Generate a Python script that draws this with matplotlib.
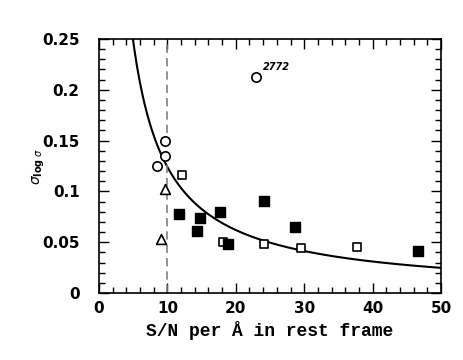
import numpy as np
import matplotlib
matplotlib.use("Agg")
import matplotlib.pyplot as plt
from matplotlib.ticker import MultipleLocator

circle_x = [9.65, 9.69, 8.43, 22.9]
circle_y = [0.150, 0.135, 0.125, 0.213]
tri_x = [9.7, 9.0]
tri_y = [0.102, 0.053]
open_sq_x = [12.1, 18.1, 24.1, 29.5, 37.7]
open_sq_y = [0.116, 0.050, 0.048, 0.044, 0.045]
filled_sq_x = [11.65, 14.8, 17.7, 14.4, 18.9, 24.1, 28.7, 46.6]
filled_sq_y = [0.078, 0.074, 0.080, 0.061, 0.048, 0.091, 0.065, 0.041]
curve_coef = 1.24
cut_sn = 10
label_text = "2772"

fig = plt.figure(figsize=(4.63, 3.6), dpi=100)
ax = fig.add_axes([0.2138, 0.186, 0.7387, 0.7057])

xs = np.linspace(1, 50, 400)
ax.plot(xs, curve_coef / xs, color="black", lw=1.5)
ax.axvline(cut_sn, color="gray", ls=(0, (5, 3)), lw=1.2)

ax.scatter(circle_x, circle_y, marker="o", s=45, facecolors="white", edgecolors="black", linewidths=1.2, zorder=3)
ax.scatter(tri_x, tri_y, marker="^", s=50, facecolors="white", edgecolors="black", linewidths=1.2, zorder=3)
ax.scatter(open_sq_x, open_sq_y, marker="s", s=40, facecolors="white", edgecolors="black", linewidths=1.2, zorder=3)
ax.scatter(filled_sq_x, filled_sq_y, marker="s", s=45, facecolors="black", edgecolors="black", zorder=3)
ax.annotate(label_text, (circle_x[3], circle_y[3]), xytext=(5, 5), textcoords="offset points",
            fontsize=7, fontstyle="italic", fontweight="bold")

ax.set_xlim(0, 50)
ax.set_ylim(0, 0.25)
ax.xaxis.set_major_locator(MultipleLocator(10))
ax.xaxis.set_minor_locator(MultipleLocator(2))
ax.yaxis.set_major_locator(MultipleLocator(0.05))
ax.yaxis.set_minor_locator(MultipleLocator(0.01))
ax.set_yticks([0, 0.05, 0.1, 0.15, 0.2, 0.25])
ax.set_yticklabels(["0", "0.05", "0.1", "0.15", "0.2", "0.25"])
ax.tick_params(which="both", direction="in", top=True, right=True, labelsize=11, width=1)
ax.tick_params(which="major", length=7)
ax.tick_params(which="minor", length=4)
ax.tick_params(axis="y", pad=14)
ax.tick_params(axis="x", pad=6)
for lab in ax.get_xticklabels() + ax.get_yticklabels():
    lab.set_fontweight("semibold")
for s in ax.spines.values():
    s.set_linewidth(1.2)

ax.set_xlabel("S/N per Å in rest frame", family="Liberation Mono", fontweight="bold", fontsize=13, labelpad=3)
ax.set_ylabel(r"$\sigma_{\mathbf{log}\ \sigma}$", fontsize=10, labelpad=-4)

fig.savefig("out.png", dpi=100)
